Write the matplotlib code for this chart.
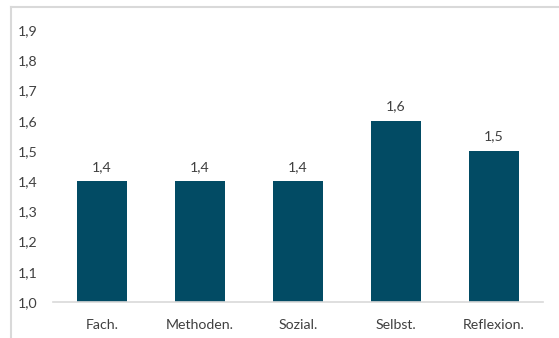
import matplotlib
matplotlib.use("Agg")
import matplotlib.pyplot as plt
from matplotlib.lines import Line2D

categories = ["Fach.", "Methoden.", "Sozial.", "Selbst.", "Reflexion."]
values = [1.4, 1.4, 1.4, 1.6, 1.5]
yticks = [1.0, 1.1, 1.2, 1.3, 1.4, 1.5, 1.6, 1.7, 1.8, 1.9]

def de(v):
    return f"{v:.1f}".replace(".", ",")

plt.rcParams['font.family'] = ['Lato', 'DejaVu Sans']
W, H = 559, 338
fig = plt.figure(figsize=(W/100, H/100), dpi=100)
ax = fig.add_axes([53/W, 36/H, 490/W, (302-30)/H])

x = list(range(len(categories)))
bars = ax.bar(x, [v - 1.0 for v in values], bottom=1.0, width=0.52, color="#024B64")
ax.set_xlim(-0.5, len(categories) - 0.5)
ax.set_ylim(1.0, 1.9)
ax.set_yticks(yticks)
ax.set_yticklabels([de(t) for t in yticks])
ax.set_xticks(x)
ax.set_xticklabels(categories)
ax.tick_params(axis='both', length=0, labelsize=10.2, labelcolor="#404040")
ax.tick_params(axis='y', pad=11)
ax.tick_params(axis='x', pad=12)
for s in ["top", "right", "left"]:
    ax.spines[s].set_visible(False)
ax.spines["bottom"].set_color("#d9d9d9")
ax.spines["bottom"].set_linewidth(1.2)

for xi, v in zip(x, values):
    ax.annotate(de(v), (xi, v), xytext=(0, 6), textcoords="offset points",
                ha="center", va="bottom", fontsize=10.2, color="#404040")

# outer chart frame (top and left visible)
fig.add_artist(Line2D([11/W, 1.0], [1 - 7/H, 1 - 7/H], transform=fig.transFigure, color="#d9d9d9", lw=1.5))
fig.add_artist(Line2D([11/W, 11/W], [0, 1 - 7/H], transform=fig.transFigure, color="#d9d9d9", lw=1.5))

fig.savefig("out.png", dpi=100)
